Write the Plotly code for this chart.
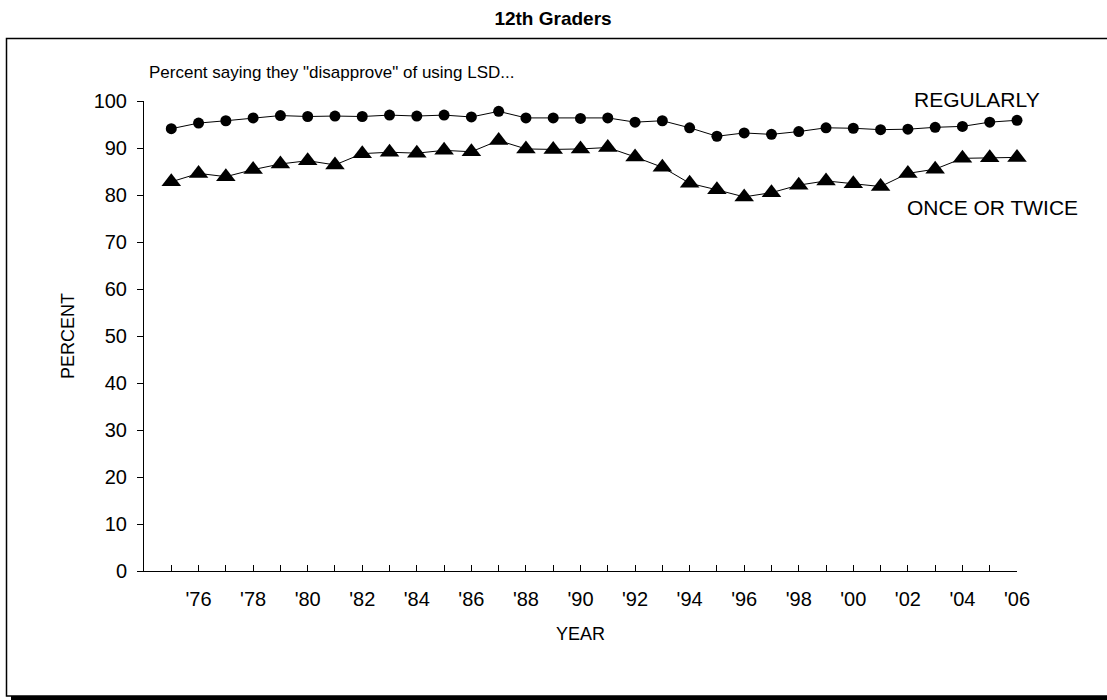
import plotly.graph_objects as go

years = list(range(1975, 2007))
year_ticks = list(range(1976, 2007, 2))

regularly = [94.1, 95.3, 95.8, 96.4, 96.9, 96.7, 96.8, 96.7, 97.0, 96.8,
             97.0, 96.6, 97.8, 96.4, 96.4, 96.3, 96.4, 95.5, 95.8, 94.3,
             92.5, 93.2, 92.9, 93.5, 94.3, 94.2, 93.9, 94.0, 94.4, 94.6,
             95.5, 95.9]
once_twice = [82.8, 84.6, 83.9, 85.4, 86.6, 87.3, 86.4, 88.8, 89.1, 88.9,
              89.5, 89.2, 91.6, 89.8, 89.7, 89.8, 90.1, 88.1, 85.9, 82.5,
              81.1, 79.6, 80.5, 82.1, 83.0, 82.4, 81.8, 84.6, 85.5, 87.8,
              87.9, 88.0]

FONT = "Liberation Sans, Arial, sans-serif"

W, H = 1107, 700
L, R, T, B = 144, 90, 101, 129
pw = W - L - R
ph = H - T - B


def px(x):
    return (x - L) / pw


def py(y):
    return (H - B - y) / ph


fig = go.Figure()
fig.add_trace(go.Scatter(
    x=years, y=regularly, mode="lines+markers",
    line=dict(color="black", width=1),
    marker=dict(symbol="circle", size=11, color="black"),
    showlegend=False, cliponaxis=False))
fig.add_trace(go.Scatter(
    x=years, y=once_twice, mode="lines+markers",
    line=dict(color="black", width=1),
    marker=dict(symbol="triangle-up", size=17, color="black"),
    showlegend=False, cliponaxis=False))

fig.update_layout(
    width=W, height=H,
    margin=dict(l=L, r=R, t=T, b=B),
    paper_bgcolor="white", plot_bgcolor="white",
    font=dict(family=FONT, size=18, color="black"),
    title=dict(text="<b>12th Graders</b>", x=553 / W, xref="container", xanchor="center",
               y=1 - 18 / H, yref="container", yanchor="middle",
               font=dict(size=19, family=FONT)),
    xaxis=dict(range=[1974, 2006], tickmode="array",
               tickvals=years,
               ticktext=["'" + str(y)[2:] if y in year_ticks else "" for y in years],
               ticks="inside", ticklen=6, tickcolor="black", tickwidth=1,
               showline=True, linecolor="black", linewidth=1,
               showgrid=False, zeroline=False, ticklabelstandoff=10,
               tickfont=dict(size=20, family=FONT),
               title=dict(text="YEAR", standoff=18, font=dict(size=18, family=FONT))),
    yaxis=dict(range=[0, 100], tickmode="array", tickvals=list(range(0, 101, 10)),
               ticks="outside", ticklen=6, tickcolor="black", tickwidth=1,
               showline=True, linecolor="black", linewidth=1,
               showgrid=False, zeroline=False, ticklabelstandoff=6,
               tickfont=dict(size=20, family=FONT),
               title=dict(text="PERCENT", standoff=14, font=dict(size=18, family=FONT))),
    shapes=[
        dict(type="rect", xref="paper", yref="paper",
             x0=px(6.5), x1=px(1115), y0=py(696), y1=py(38.5),
             line=dict(color="black", width=1.5), layer="below"),
        dict(type="line", xref="paper", yref="paper",
             x0=px(11), x1=px(1115), y0=py(698), y1=py(698),
             line=dict(color="black", width=4)),
    ],
    annotations=[
        dict(text='Percent saying they "disapprove" of using LSD...',
             xref="paper", yref="paper", x=px(147), y=py(73),
             xanchor="left", yanchor="middle", showarrow=False,
             font=dict(size=17, family=FONT)),
        dict(text="REGULARLY", xref="paper", yref="paper",
             x=px(977), y=py(100), xanchor="center", yanchor="middle",
             showarrow=False, font=dict(size=21, family=FONT)),
        dict(text="ONCE OR TWICE", xref="paper", yref="paper",
             x=px(992), y=py(207), xanchor="center", yanchor="middle",
             showarrow=False, font=dict(size=21, family=FONT)),
    ],
)

fig.write_html(
    "out.html",
    config={"displayModeBar": False},
    post_script="document.body.style.margin='0';document.body.style.overflow='hidden';",
)
